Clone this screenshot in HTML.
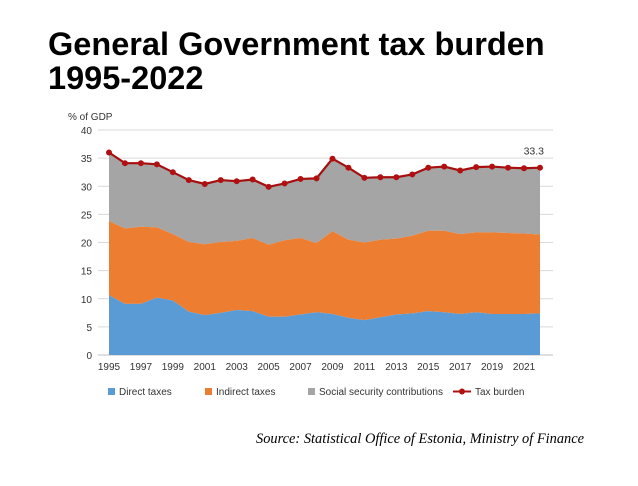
<!DOCTYPE html>
<html><head><meta charset="utf-8"><style>
body{margin:0;background:#fff;width:638px;height:486px;overflow:hidden;font-family:"Liberation Sans",sans-serif}
#title{position:absolute;left:48px;top:27px;font-size:32.5px;font-weight:bold;line-height:34px;color:#000}
#src{position:absolute;left:256px;top:431px;font-family:"Liberation Serif",serif;font-style:italic;font-size:14.4px}
</style></head><body>
<div id="title">General Government tax burden<br>1995-2022</div>
<svg id="chart" width="638" height="486" style="position:absolute;left:0;top:0"></svg>
<div id="src">Source: Statistical Office of Estonia, Ministry of Finance</div>
<script>
const years=[1995,1996,1997,1998,1999,2000,2001,2002,2003,2004,2005,2006,2007,2008,2009,2010,2011,2012,2013,2014,2015,2016,2017,2018,2019,2020,2021,2022];
const direct=[10.6,9.1,9.1,10.2,9.7,7.7,7.1,7.5,8.0,7.8,6.8,6.8,7.2,7.6,7.3,6.6,6.2,6.7,7.2,7.4,7.8,7.6,7.3,7.6,7.3,7.3,7.3,7.4];
const indirect=[13.2,13.4,13.7,12.5,11.8,12.4,12.6,12.6,12.3,13.0,12.8,13.6,13.6,12.3,14.7,13.9,13.8,13.8,13.5,13.8,14.3,14.5,14.2,14.2,14.5,14.4,14.3,14.0];
const burden=[36.0,34.1,34.1,33.9,32.5,31.1,30.4,31.1,30.9,31.2,29.9,30.5,31.3,31.4,34.9,33.3,31.5,31.6,31.6,32.1,33.3,33.5,32.8,33.4,33.5,33.3,33.2,33.3];
const yTicks=[0,5,10,15,20,25,30,35,40];
const xLabels=[1995,1997,1999,2001,2003,2005,2007,2009,2011,2013,2015,2017,2019,2021];
const NS="http://www.w3.org/2000/svg",svg=document.getElementById('chart');
const x0=109,x1=540,yb=355,yt=130;
const X=i=>x0+(x1-x0)*i/(years.length-1);
const Y=v=>yb-(yb-yt)*v/40;
function el(t,a,p){const e=document.createElementNS(NS,t);for(const k in a)e.setAttribute(k,a[k]);(p||svg).appendChild(e);return e;}
yTicks.forEach(v=>{
 const g=el('line',{x1:98,x2:553,y1:Y(v),y2:Y(v),stroke:v?'#d9d9d9':'#bfbfbf'});
 
 
 const t=el('text',{x:92,y:Y(v)+4,'text-anchor':'end','font-size':10,fill:'#333'});t.textContent=v;
 
 
});
const yl=el('text',{x:68,y:120,'font-size':10,fill:'#333'});yl.textContent='% of GDP';


xLabels.forEach(yr=>{const i=years.indexOf(yr);const t=el('text',{x:X(i),y:370,'text-anchor':'middle','font-size':10,fill:'#333'});t.textContent=yr;
 
 });
const top1=direct,top2=direct.map((d,i)=>d+indirect[i]),top3=burden;
function area(top,bot,col,name){
 let d='M'+years.map((_,i)=>X(i)+','+Y(top[i])).join('L');
 for(let i=years.length-1;i>=0;i--)d+='L'+X(i)+','+Y(bot?bot[i]:0);
 const p=el('path',{d:d+'Z',fill:col});
 
 
}
area(top3,top2,'#a5a5a5','social-security-area');
area(top2,top1,'#ed7d31','indirect-taxes-area');
area(top1,null,'#5b9bd5','direct-taxes-area');
const ln=el('polyline',{points:years.map((_,i)=>X(i)+','+Y(burden[i])).join(' '),fill:'none',stroke:'#a50f0f','stroke-width':2.2});


burden.forEach((v,i)=>{const c=el('circle',{cx:X(i),cy:Y(v),r:3,fill:'#b01010'});
 
 });
const lab=el('text',{x:X(burden.length-1)+4,y:Y(burden[burden.length-1])-13,'text-anchor':'end','font-size':10.5,fill:'#333'});
lab.textContent=burden[burden.length-1].toFixed(1);


const leg=[['Direct taxes','#5b9bd5',108,'box'],['Indirect taxes','#ed7d31',205,'box'],['Social security contributions','#a5a5a5',308,'box'],['Tax burden','#b01010',459,'line']];
leg.forEach(([n,c,x,k])=>{
 const g=el('g',{});
 
 
 if(k==='box')el('rect',{x:x,y:388,width:7,height:7,fill:c},g);
 else{el('line',{x1:x-6,x2:x+12,y1:391.5,y2:391.5,stroke:c,'stroke-width':2},g);el('circle',{cx:x+3,cy:391.5,r:3,fill:c},g);}
 const t=el('text',{x:x+(k==='box'?11:16),y:395,'font-size':10,fill:'#333'},g);t.textContent=n;
});
</script>
</body></html>
